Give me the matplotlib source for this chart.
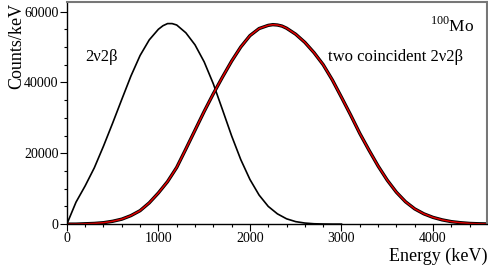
import matplotlib
matplotlib.use('Agg')
import matplotlib.pyplot as plt
from matplotlib.ticker import MultipleLocator

plt.rcParams['font.family'] = ['Liberation Serif', 'DejaVu Serif']

## -- energies (keV) and spectra (counts/keV)
energy_single = [0, 100, 200, 300, 400, 500, 600, 700, 800, 900, 1000,
                 1050, 1100, 1150, 1200, 1300, 1400, 1500, 1600, 1700, 1800, 1900, 2000,
                 2100, 2200, 2300, 2400, 2500, 2600, 2700, 2800, 2900, 3000]
counts_single = [0, 6200, 10800, 15900, 22000, 28500, 35200, 41800, 47600, 52000, 55000,
                 56000, 56600, 56600, 56200, 54000, 50600, 45800, 39600, 32300, 24900, 18200, 12600,
                 8200, 5000, 2900, 1500, 700, 300, 100, 30, 0, 0]

energy_double = [0, 100, 200, 300, 400, 500, 600, 700, 800, 900, 1000,
                 1100, 1200, 1300, 1400, 1500, 1600, 1700, 1800, 1900, 2000,
                 2100, 2200, 2250, 2300, 2350, 2400, 2500, 2600, 2700, 2800, 2900, 3000,
                 3100, 3200, 3300, 3400, 3500, 3600, 3700, 3800, 3900, 4000,
                 4100, 4200, 4300, 4400, 4500, 4600]
counts_double = [0, 0, 100, 200, 400, 800, 1400, 2400, 3800, 6000, 8800,
                 12000, 16000, 21200, 26500, 31800, 36800, 41500, 46000, 50000, 53200,
                 55200, 56100, 56300, 56200, 55900, 55300, 53600, 51300, 48400, 45000, 40700, 35800,
                 30800, 25600, 20900, 16400, 12400, 9000, 6300, 4300, 2900, 1900,
                 1200, 700, 400, 200, 100, 50]

x_lim = [0, 4590]
y_lim = [0, 62800]

fig = plt.figure(figsize=(4.88, 2.71), dpi=100)
ax = fig.add_axes([0.137, 0.173, 0.861, 0.821])

## -- single 2v2b spectrum
ax.plot(energy_single, counts_single, color='k', lw=1.2)
## -- two coincident: black histogram under red fit
ax.plot(energy_double, counts_double, color='k', lw=2.4)
ax.plot(energy_double, counts_double, color='#e00000', lw=1.1)

ax.set_xlim(x_lim)
ax.set_ylim(y_lim)
ax.xaxis.set_major_locator(MultipleLocator(1000))
ax.xaxis.set_minor_locator(MultipleLocator(200))
ax.yaxis.set_major_locator(MultipleLocator(20000))
ax.yaxis.set_minor_locator(MultipleLocator(5000))
ax.tick_params(which='major', direction='out', length=5, width=0.8, labelsize=10, pad=1)
ax.tick_params(which='minor', direction='out', length=2.5, width=0.8)
for side in ['top', 'right']:
  ax.spines[side].set_color('#777777')
  ax.spines[side].set_linewidth(1.5)
for side in ['left', 'bottom']:
  ax.spines[side].set_linewidth(1.0)

ax.set_xlabel('Energy (keV)', fontsize=13, labelpad=0)
ax.xaxis.set_label_coords(1.0, -0.105)
ax.xaxis.label.set_horizontalalignment('right')
ax.set_ylabel('Counts/keV', fontsize=13, labelpad=0)
ax.yaxis.set_label_coords(-0.10, 0.995)
ax.yaxis.label.set_horizontalalignment('right')

ax.text(0.043, 0.752, '2ν2β', transform=ax.transAxes, fontsize=12, va='center')
ax.text(0.621, 0.752, 'two coincident 2ν2β', transform=ax.transAxes, fontsize=12, va='center')
ax.text(0.969, 0.89, r'$^{\mathregular{100}}$Mo', transform=ax.transAxes, fontsize=12.5,
        va='center', ha='right')

fig.savefig('out.png', dpi=100)
